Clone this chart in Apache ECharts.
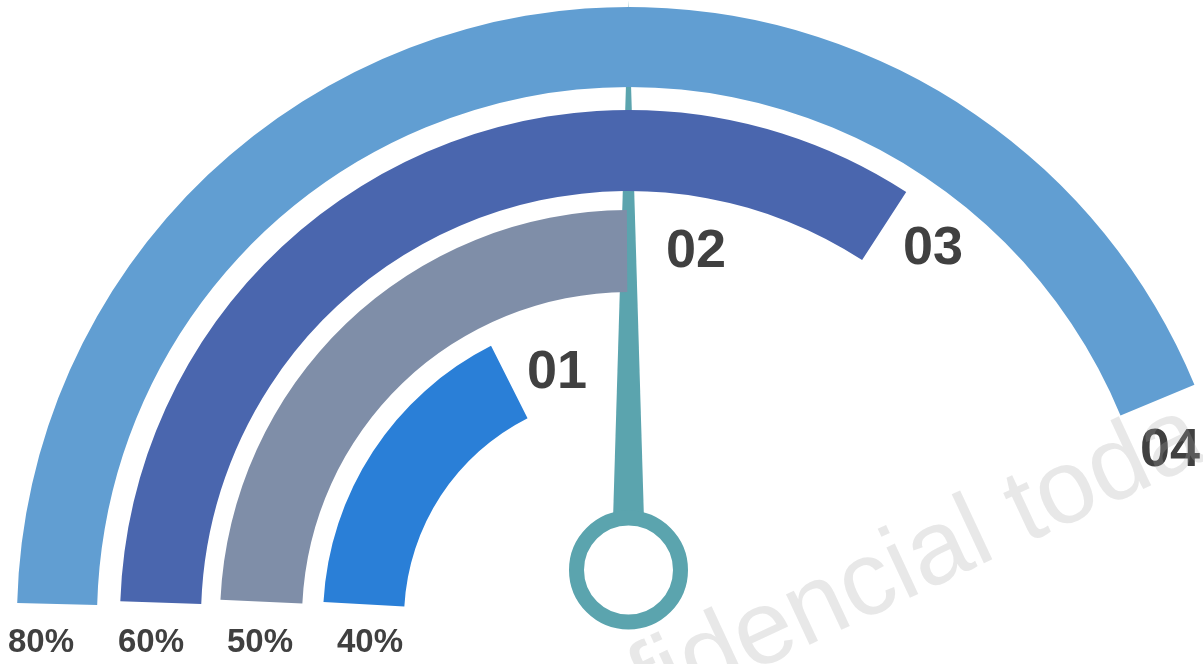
<!DOCTYPE html>
<html>
<head>
<meta charset="utf-8">
<script src="https://cdn.jsdelivr.net/npm/echarts@6/dist/echarts.min.js"></script>
<style>
  html, body { margin: 0; padding: 0; background: #fff; }
  #main { width: 1203px; height: 664px; }
</style>
</head>
<body>
<div id="main"></div>
<script>
// ring names, percent captions and arc length (degrees of the half circle)
const ringNames = ['01', '02', '03', '04']
const percentLabels = ['40%', '50%', '60%', '80%']
const arcDegrees = [60, 87, 121, 156]
const needleValue = 90

// layout of each ring (outer radius, band width, start angle, colour, label offsets)
const ringStyle = [
  { r: 306, w: 81, start: 176.8, color: '#2a7fd7', name: [-72, -246], pct: [-259, 24] },
  { r: 409, w: 82, start: 177.3, color: '#7f8ea8', name: [67, -367], pct: [-369, 24] },
  { r: 509, w: 81, start: 178, color: '#4a66ae', name: [304, -370], pct: [-478, 24] },
  { r: 612, w: 80, start: 178.5, color: '#619ed2', name: [541, -168], pct: [-588, 24] }
]
const center = [629, 619]
const textColor = '#404040'
const fontFamily = '"Liberation Sans", Arial, sans-serif'

const chart = echarts.init(document.getElementById('main'))

const series = ringNames.map(function (name, i) {
  const s = ringStyle[i]
  return {
    type: 'gauge',
    center: center,
    radius: s.r,
    startAngle: s.start,
    endAngle: s.start - 180,
    min: 0,
    max: 180,
    progress: { show: true, width: s.w, itemStyle: { color: s.color } },
    axisLine: { show: false },
    axisTick: { show: false },
    splitLine: { show: false },
    axisLabel: { show: false },
    pointer: { show: false },
    anchor: { show: false },
    title: {
      offsetCenter: s.name,
      color: textColor,
      fontSize: 54,
      fontWeight: 'bold',
      fontFamily: fontFamily
    },
    detail: {
      offsetCenter: s.pct,
      color: textColor,
      fontSize: 33,
      fontWeight: 'bold',
      fontFamily: fontFamily,
      formatter: function () { return percentLabels[i] }
    },
    data: [{ value: arcDegrees[i], name: name }]
  }
})

// needle
series.push({
  type: 'gauge',
  center: [628.5, 570],
  radius: 570,
  startAngle: 180,
  endAngle: 0,
  min: 0,
  max: 180,
  axisLine: { show: false },
  axisTick: { show: false },
  splitLine: { show: false },
  axisLabel: { show: false },
  pointer: {
    show: true,
    icon: 'path://M17,0 L34,570 L0,570 Z',
    width: 34,
    length: 570,
    itemStyle: { color: '#5ba4ae' }
  },
  anchor: {
    show: true,
    showAbove: true,
    icon: 'circle',
    size: 104,
    itemStyle: { color: '#fff', borderColor: '#5ba4ae', borderWidth: 15 }
  },
  title: { show: false },
  detail: { show: false },
  data: [{ value: needleValue }]
})

const option = {
  animation: false,
  series: series,
  graphic: [
    {
      type: 'text',
      x: 485,
      y: 822,
      rotation: 25 * Math.PI / 180,
      z: 100,
      silent: true,
      style: {
        text: 'Confidencial toda la información',
        font: 'normal 105px ' + fontFamily,
        fill: 'rgba(165,165,165,0.26)',
        align: 'left',
        verticalAlign: 'bottom'
      }
    }
  ]
}

chart.setOption(option)
</script>
</body>
</html>
